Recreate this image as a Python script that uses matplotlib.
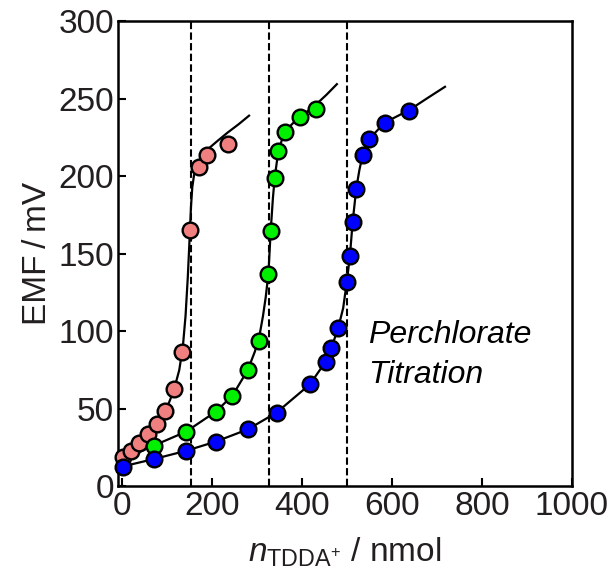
import matplotlib
matplotlib.use("Agg")
import matplotlib.pyplot as plt

plt.rcParams['font.family'] = ['Liberation Sans', 'DejaVu Sans']
plt.rcParams['mathtext.fontset'] = 'custom'
plt.rcParams['mathtext.rm'] = 'Liberation Sans'
plt.rcParams['mathtext.it'] = 'Liberation Sans:italic'

# ---- data ----
red_x = [4, 21, 39, 59, 78, 97, 116, 134, 152, 172, 189, 236]
red_y = [19.2, 23, 27.8, 33.6, 40, 48.6, 62.6, 86.9, 165, 206, 213.6, 220.7]

green_x = [71, 143, 209, 246, 280, 304, 326, 331, 340, 348, 362, 396, 431]
green_y = [26.3, 35.3, 48.2, 58.5, 75, 93.5, 137.2, 164.5, 199, 216.4, 228.6, 238, 243.2]

blue_x = [4, 72, 142, 209, 280, 344, 418, 453, 466, 481, 500, 507, 513, 521,
          535, 549, 584, 638]
blue_y = [12.8, 17.7, 22.9, 28.9, 36.8, 47.6, 65.8, 80.4, 89.4, 102.3, 131.8,
          148.8, 170.4, 192, 213.4, 223.7, 234.5, 242]

# fitted curves
red_fit_x = [-8, 20, 40, 60, 80, 98, 116, 128, 136, 142, 147, 151, 154, 157,
             161, 167, 176, 190, 210, 235, 260, 283]
red_fit_y = [17, 22.7, 27.8, 33.6, 40.4, 48.7, 62, 75, 90, 110, 135, 160, 180,
             193, 201, 207, 212, 217, 222, 228, 233.5, 239]

green_fit_x = [-8, 71, 143, 209, 246, 280, 296, 306, 314, 320, 326, 331, 336,
               340, 348, 362, 380, 396, 431, 455, 478]
green_fit_y = [16, 26.3, 35.3, 48.2, 58.5, 75, 87, 97, 110, 122, 137.2, 164.5,
               186, 199, 216.4, 228.6, 234, 238, 246, 252.5, 259.3]

blue_fit_x = [-8, 72, 142, 209, 280, 344, 418, 453, 466, 481, 492, 500, 507,
              513, 521, 528, 535, 549, 584, 638, 680, 718]
blue_fit_y = [12.2, 17.7, 22.9, 28.9, 36.8, 47.6, 65.8, 80.4, 89.4, 102.3, 115,
              131.8, 148.8, 170.4, 192, 204, 213.4, 223.7, 234.5, 242.5, 250.5,
              257.6]

endpoints = [153, 328, 501]
x_ticks = [0, 200, 400, 600, 800, 1000]
y_ticks = [0, 50, 100, 150, 200, 250, 300]

# ---- figure ----
fig = plt.figure(figsize=(6.12, 5.79), dpi=100)
ax = fig.add_axes([0.1928, 0.1598, 0.7418, 0.8039])

txt_color = '#231F20'

for xv in endpoints:
    ax.axvline(xv, color='black', lw=1.5, linestyle=(0, (3.5, 1.6)), zorder=1)

for fx, fy in [(red_fit_x, red_fit_y), (green_fit_x, green_fit_y),
               (blue_fit_x, blue_fit_y)]:
    ax.plot(fx, fy, color='black', lw=1.6, zorder=2)

for x, y, c in [(red_x, red_y, '#F08080'), (green_x, green_y, '#00F000'),
                (blue_x, blue_y, '#0000FF')]:
    ax.plot(x, y, linestyle='none', marker='o', markersize=11.3,
            markerfacecolor=c, markeredgecolor='black', markeredgewidth=1.7,
            zorder=3, clip_on=False)

ax.set_xlim(-8, 1000)
ax.set_ylim(0, 300)
ax.set_xticks(x_ticks)
ax.set_yticks(y_ticks)
ax.tick_params(direction='in', length=6, width=1.5, labelsize=24,
               labelcolor=txt_color, pad=3)
for s in ax.spines.values():
    s.set_linewidth(1.8)

ax.set_ylabel('EMF\u2009/\u2009mV', fontsize=24, color=txt_color, labelpad=4)
ax.set_xlabel(r'$n_{\mathrm{TDDA}^{+}}$ / nmol', fontsize=24, color=txt_color,
              labelpad=10)

ax.text(0.551, 0.357, 'Perchlorate\nTitration', transform=ax.transAxes,
        fontsize=23, style='italic', color='black', ha='left', va='top',
        linespacing=1.4)

fig.savefig('out.png', dpi=100)
